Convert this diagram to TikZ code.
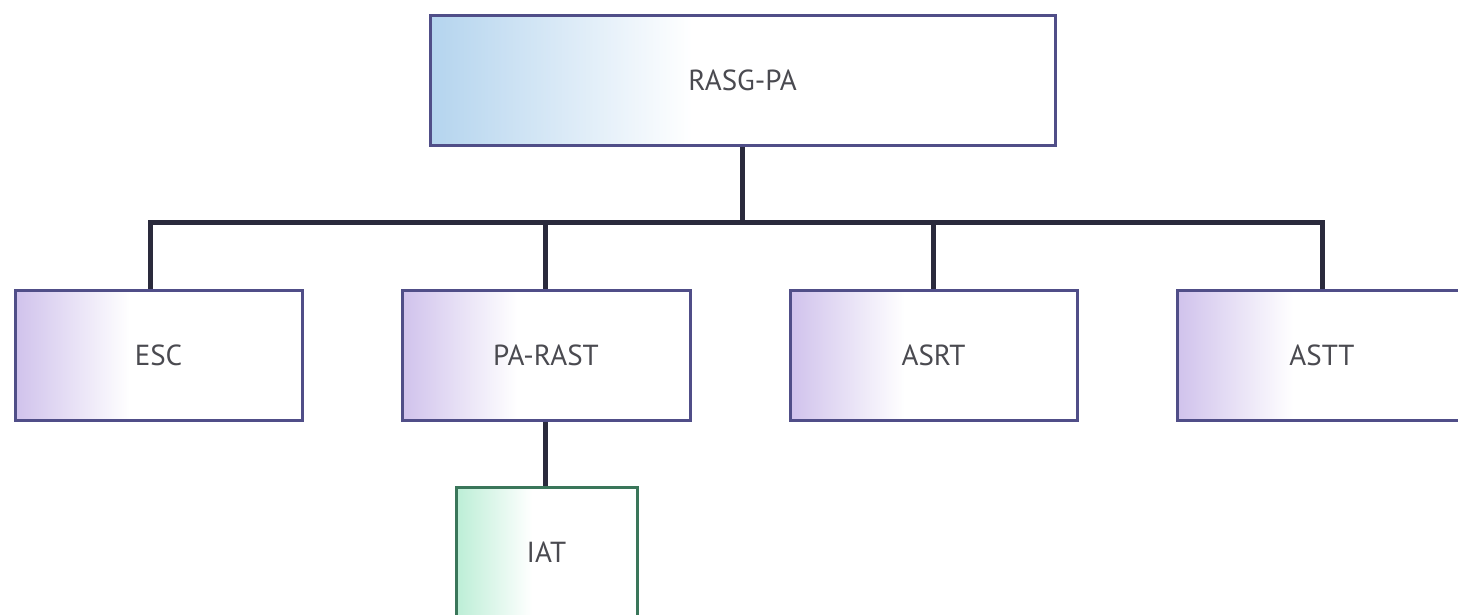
\documentclass[tikz,border=0pt]{standalone}
\usepackage{fontspec}
\setmainfont{PT Sans}
\definecolor{boxedge}{HTML}{504E88}
\definecolor{wire}{HTML}{2A2A3C}
\definecolor{txt}{HTML}{4A4A50}
\definecolor{topfade}{HTML}{B4D4EE}
\definecolor{unitfade}{HTML}{D0C2EC}
\definecolor{teamfade}{HTML}{BCEED6}
\definecolor{teamedge}{HTML}{3A765A}
% left-to-white fades; the box spans 25bp..75bp of each shading
\pgfdeclarehorizontalshading{topshade}{100bp}{color(0bp)=(topfade); color(25bp)=(topfade); color(46bp)=(white); color(100bp)=(white)}
\pgfdeclarehorizontalshading{unitshade}{100bp}{color(0bp)=(unitfade); color(25bp)=(unitfade); color(45bp)=(white); color(100bp)=(white)}
\pgfdeclarehorizontalshading{teamshade}{100bp}{color(0bp)=(teamfade); color(25bp)=(teamfade); color(46bp)=(white); color(100bp)=(white)}
\tikzset{
  orgbox/.style={draw=boxedge, line width=3pt, minimum height=130pt,
    inner sep=0pt, text=txt, font=\fontsize{29}{33}\selectfont,
    shading=#1},
  orgbox/.default=unitshade,
  wireline/.style={draw=wire, line width=5pt}
}
\begin{document}
\begin{tikzpicture}[x=1pt,y=-1pt]
\useasboundingbox (0,0) rectangle (1458,614);
\clip (0,0) rectangle (1458,614);
\fill[white] (0,0) rectangle (1458,614);
% top unit
\node[orgbox=topshade, minimum width=625pt] (rasg) at (742.5,80) {RASG-PA};
% second level
\node[orgbox, minimum width=287pt] (esc)  at (158.5,355) {ESC};
\node[orgbox, minimum width=288pt] (rast) at (546,355) {PA-RAST};
\node[orgbox, minimum width=287pt] (asrt) at (933.5,355) {ASRT};
\node[orgbox, minimum width=290pt] (astt) at (1322,355) {ASTT};
% third level
\node[orgbox=teamshade, draw=teamedge, minimum width=181pt] (iat) at (546.5,552) {IAT};
% bus
\coordinate (bus) at (742.5,222);
\draw[wireline] (rasg.south) -- (bus);
\draw[wireline] ([xshift=-8.5pt]esc.north) |- (bus);
\draw[wireline] ([xshift=-1pt]rast.north) |- (bus);
\draw[wireline] (asrt.north) |- (bus);
\draw[wireline] (astt.north) |- (bus);
\draw[wireline] ([xshift=-1pt]rast.south) -- ([xshift=-1pt]rast.south |- iat.north);
\end{tikzpicture}
\end{document}
